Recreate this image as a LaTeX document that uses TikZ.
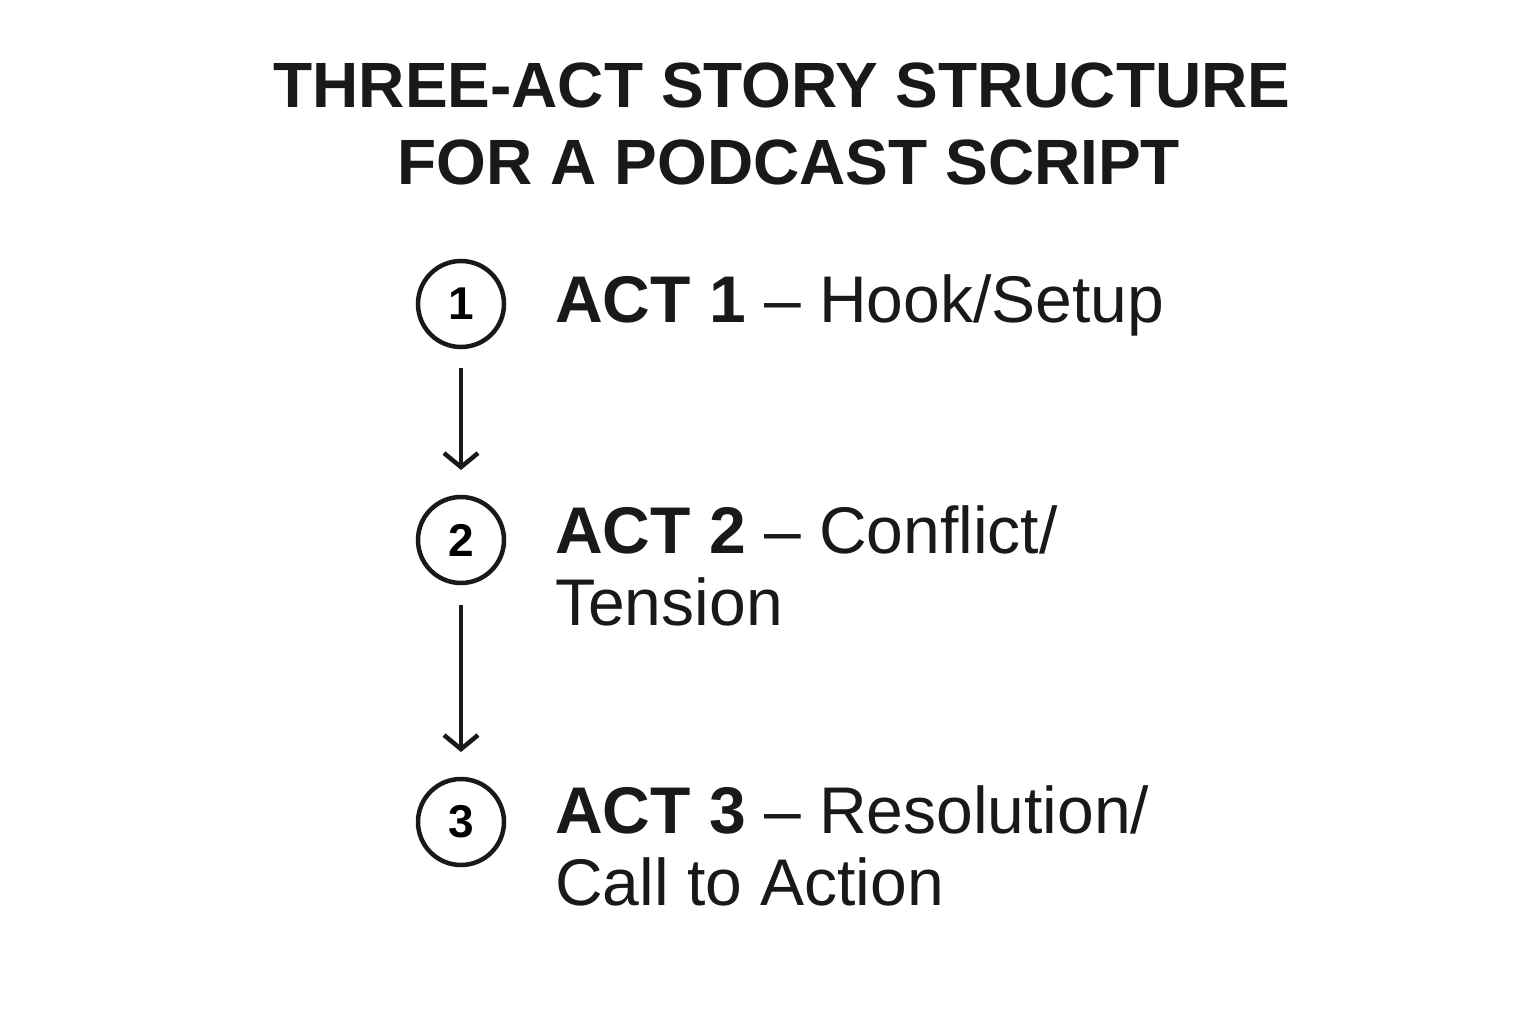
\documentclass[tikz,border=0pt]{standalone}
\usepackage{fontspec}
\setmainfont{Liberation Sans}
\usetikzlibrary{arrows.meta}
\begin{document}
\begin{tikzpicture}[x=1pt,y=-1pt,
  num/.style={circle,draw=black!90,line width=4.5pt,minimum size=86pt,inner sep=0pt,font=\fontsize{46}{46}\selectfont\bfseries},
  lbl/.style={anchor=base west,inner sep=0pt,font=\fontsize{66}{72}\selectfont,text=black!90},
  ttl/.style={anchor=base,inner sep=0pt,font=\fontsize{64}{64}\selectfont\bfseries,text=black!90},
  arr/.style={line width=4.5pt,draw=black!90,-{Straight Barb[length=14pt,width=34pt,line width=4.5pt]}}]
\path[fill=white] (0,0) rectangle (1536,1024);
\node[ttl] (t1) at (782,108) {THREE-ACT STORY STRUCTURE};
\node[ttl] (t2) at (789,185) {FOR A PODCAST SCRIPT};
\node[num] (c1) at (461,304) {1};
\node[num] (c2) at (461,540) {2};
\node[num] (c3) at (461,822) {3};
\node[lbl] (a1) at (555,322) {\textbf{ACT 1} – Hook/Setup};
\node[lbl] (a2) at (555,553) {\textbf{ACT 2} – Conflict/};
\node[lbl] (a2b) at (555,625) {Tension};
\node[lbl] (a3) at (555,833) {\textbf{ACT 3} – Resolution/};
\node[lbl] (a3b) at (555,905) {Call to Action};
\coordinate (s1) at (461,368); \coordinate (e1) at (461,470);
\coordinate (s2) at (461,605); \coordinate (e2) at (461,752);
\draw[arr] (s1) -- (e1);
\draw[arr] (s2) -- (e2);
\end{tikzpicture}
\end{document}
